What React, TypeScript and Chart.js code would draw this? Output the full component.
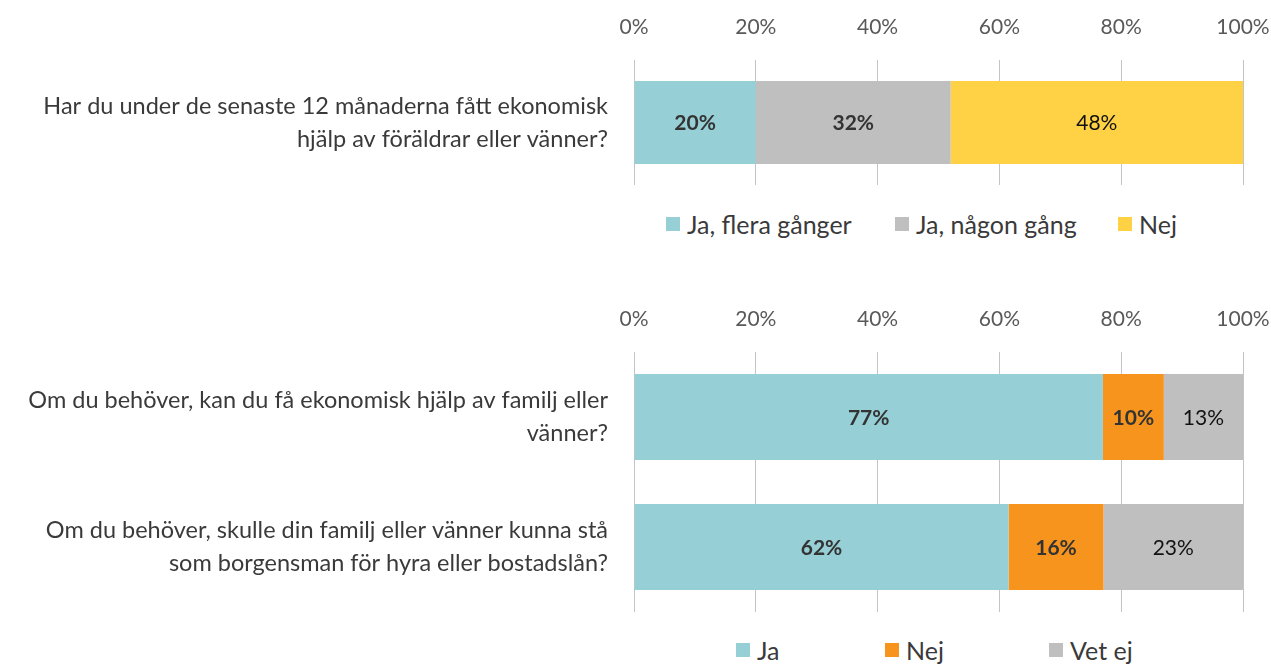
import React, { useEffect, useRef } from "react";
import { Chart, registerables } from "chart.js";

Chart.register(...registerables);

// ---------- Data ----------
const tickValues = [0, 20, 40, 60, 80, 100];

const q1Categories = [["Har du under de senaste 12 månaderna fått ekonomisk", "hjälp av föräldrar eller vänner?"]];
const q1SeriesNames = ["Ja, flera gånger", "Ja, någon gång", "Nej"];
const q1JaFlera = [20];
const q1JaNagon = [32];
const q1Nej = [48];

const q2Categories = [
  ["Om du behöver, kan du få ekonomisk hjälp av familj eller", "vänner?"],
  ["Om du behöver, skulle din familj eller vänner kunna stå", "som borgensman för hyra eller bostadslån?"],
];
const q2SeriesNames = ["Ja", "Nej", "Vet ej"];
const q2Ja = [77, 61.5];
const q2Nej = [10, 15.6];
const q2VetEj = [13, 22.9];

// ---------- Styles ----------
const FONT = "Lato, 'Open Sans', sans-serif";
const C_TEAL = "#96CFD6";
const C_GRAY = "#BFBFBF";
const C_YELLOW = "#FFD145";
const C_ORANGE = "#F7941D";
const TEXT_GRAY = "#595959";
const TEXT_DARK = "#3A3A3A";

const labelPlugin = {
  id: "segLabels",
  afterDatasetsDraw(chart: any) {
    const ctx = chart.ctx;
    ctx.save();
    chart.data.datasets.forEach((ds: any, di: number) => {
      const meta = chart.getDatasetMeta(di);
      const bold = ds.labelBold;
      ctx.font = `${bold ? "bold " : ""}21px ${FONT}`;
      ctx.fillStyle = bold ? "#333333" : "#111111";
      ctx.textAlign = "center";
      ctx.textBaseline = "middle";
      meta.data.forEach((el: any, i: number) => {
        const v = ds.data[i];
        const cx = (el.x + el.base) / 2;
        ctx.fillText(`${Math.round(v)}%`, cx, el.y + 1);
      });
    });
    ctx.restore();
  },
};

function makeOptions(axisHeight: number, barPct: number, bottomPad: number) {
  return {
    indexAxis: "y" as const,
    animation: false as const,
    responsive: false,
    maintainAspectRatio: false,
    layout: { padding: { left: 0, right: 28, top: 0, bottom: bottomPad } },
    datasets: { bar: { barPercentage: barPct, categoryPercentage: 1 } },
    plugins: {
      legend: { display: false },
      tooltip: { enabled: false },
    },
    scales: {
      x: {
        position: "top" as const,
        stacked: true,
        min: 0,
        max: 100,
        afterBuildTicks: (scale: any) => {
          scale.ticks = tickValues.map((v) => ({ value: v }));
        },
        afterFit: (scale: any) => {
          scale.height = axisHeight;
          scale.paddingLeft = 0;
          scale.paddingRight = 0;
        },
        ticks: {
          padding: 20,
          color: TEXT_GRAY,
          font: { family: FONT, size: 21 },
          callback: (v: any) => `${v}%`,
        },
        grid: { color: "#C4C4C4", lineWidth: 1, drawTicks: false },
        border: { display: false },
      },
      y: {
        stacked: true,
        afterFit: (scale: any) => {
          scale.width = 634;
          scale.paddingTop = 0;
          scale.paddingBottom = 0;
        },
        ticks: {
          padding: 18,
          color: TEXT_DARK,
          font: { family: FONT, size: 23.5, lineHeight: 1.4 },
        },
        grid: { display: false },
        border: { display: false },
      },
    },
  };
}

function BarChart(props: { labels: any[]; datasets: any[]; height: number; axisHeight: number; barPct: number; bottomPad: number }) {
  const ref = useRef<HTMLCanvasElement | null>(null);
  useEffect(() => {
    if (!ref.current) return;
    const opts: any = makeOptions(props.axisHeight, props.barPct, props.bottomPad);
    const chart = new Chart(ref.current, {
      type: "bar",
      data: { labels: props.labels, datasets: props.datasets },
      options: opts,
      plugins: [labelPlugin],
    });
    return () => chart.destroy();
  }, []);
  return <canvas ref={ref} width={1271} height={props.height} style={{ display: "block", width: 1271, height: props.height }} />;
}

function Legend(props: { items: { name: string; color: string; x: number }[]; top: number }) {
  return (
    <>
      {props.items.map((it) => (
        <div
          key={it.name}
          style={{
            position: "absolute",
            left: it.x,
            top: props.top,
            display: "flex",
            alignItems: "center",
            fontFamily: FONT,
            fontSize: 25,
            color: TEXT_DARK,
            whiteSpace: "nowrap",
            lineHeight: "28px",
          }}
        >
          <span style={{ display: "inline-block", width: 14, height: 14, background: it.color, marginRight: 7 }} />
          <span>{it.name}</span>
        </div>
      ))}
    </>
  );
}

export default function App() {
  const q1Datasets = [
    { label: q1SeriesNames[0], data: q1JaFlera, backgroundColor: C_TEAL, labelBold: true },
    { label: q1SeriesNames[1], data: q1JaNagon, backgroundColor: C_GRAY, labelBold: true },
    { label: q1SeriesNames[2], data: q1Nej, backgroundColor: C_YELLOW, labelBold: false },
  ];
  const q2Datasets = [
    { label: q2SeriesNames[0], data: q2Ja, backgroundColor: C_TEAL, labelBold: true },
    { label: q2SeriesNames[1], data: q2Nej, backgroundColor: C_ORANGE, labelBold: true },
    { label: q2SeriesNames[2], data: q2VetEj, backgroundColor: C_GRAY, labelBold: false },
  ];
  return (
    <div style={{ position: "fixed", left: 0, top: 0, width: 1271, height: 664, background: "#fff", overflow: "hidden" }}>
      <div style={{ position: "absolute", left: 0, top: 0 }}>
        <BarChart labels={q1Categories} datasets={q1Datasets} height={200} axisHeight={60} barPct={0.664} bottomPad={15} />
      </div>
      <Legend
        top={210}
        items={[
          { name: q1SeriesNames[0], color: C_TEAL, x: 666 },
          { name: q1SeriesNames[1], color: C_GRAY, x: 895 },
          { name: q1SeriesNames[2], color: C_YELLOW, x: 1118 },
        ]}
      />
      <div style={{ position: "absolute", left: 0, top: 290 }}>
        <BarChart labels={q2Categories} datasets={q2Datasets} height={330} axisHeight={62} barPct={0.66} bottomPad={8} />
      </div>
      <Legend
        top={636}
        items={[
          { name: q2SeriesNames[0], color: C_TEAL, x: 736 },
          { name: q2SeriesNames[1], color: C_ORANGE, x: 885 },
          { name: q2SeriesNames[2], color: C_GRAY, x: 1049 },
        ]}
      />
    </div>
  );
}
